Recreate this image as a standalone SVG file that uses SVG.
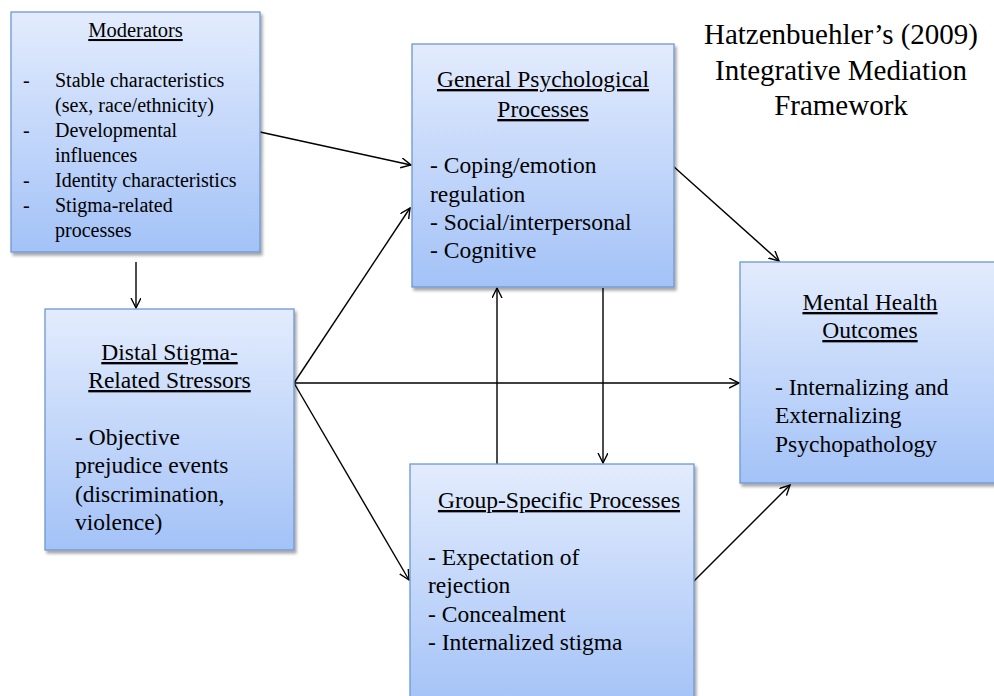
<svg xmlns="http://www.w3.org/2000/svg" width="994" height="696" viewBox="0 0 994 696">
  <defs>
    <linearGradient id="boxFill" x1="0" y1="0" x2="0" y2="1">
      <stop offset="0" stop-color="#e3ecfd"/>
      <stop offset="1" stop-color="#a3c2f7"/>
    </linearGradient>
    <filter id="shadow" x="-10%" y="-10%" width="125%" height="125%">
      <feDropShadow dx="2" dy="3" stdDeviation="1.5" flood-color="#000" flood-opacity="0.35"/>
    </filter>
    <marker id="open" markerUnits="userSpaceOnUse" markerWidth="12" markerHeight="12" refX="10" refY="5" orient="auto" viewBox="0 0 12 12">
      <path d="M0,0 L10,5 L0,10" fill="none" stroke="#000" stroke-width="1.4"/>
    </marker>
    <style>
      .box { fill: url(#boxFill); stroke: #6f97d3; stroke-width: 1.3; filter: url(#shadow); }
      text { font-family: "Liberation Serif", "Times New Roman", serif; fill: #000; }
      .head { font-size: 23.5px; text-anchor: middle; text-decoration: underline; }
      .body { font-size: 23.5px; }
      .small { font-size: 20px; }
      .smallhead { font-size: 20.5px; text-anchor: middle; text-decoration: underline; }
      .title { font-size: 29px; text-anchor: middle; }
      .conn { stroke: #000; stroke-width: 1.4; fill: none; marker-end: url(#open); }
    </style>
  </defs>

  <rect width="994" height="696" fill="#fff"/>

  <!-- Title -->
  <g id="title">
    <text class="title" x="841" y="44">Hatzenbuehler’s (2009)</text>
    <text class="title" x="841" y="80">Integrative Mediation</text>
    <text class="title" x="841" y="115">Framework</text>
  </g>

  <!-- Connectors -->
  <g id="connectors">
    <line class="conn" x1="260" y1="132" x2="411" y2="165"/>
    <line class="conn" x1="136" y1="262" x2="136" y2="308"/>
    <line class="conn" x1="294" y1="383" x2="410" y2="208"/>
    <line class="conn" x1="294" y1="383" x2="739" y2="383"/>
    <line class="conn" x1="294" y1="383" x2="409" y2="580"/>
    <line class="conn" x1="673" y1="166" x2="779" y2="261"/>
    <line class="conn" x1="497" y1="464" x2="497" y2="288"/>
    <line class="conn" x1="603" y1="288" x2="603" y2="463"/>
    <line class="conn" x1="693" y1="582" x2="790" y2="485"/>
  </g>

  <!-- Moderators -->
  <g id="moderators">
    <rect class="box" x="11" y="12" width="249" height="240"/>
    <text class="smallhead" x="135.5" y="37">Moderators</text>
    <text class="small" x="23" y="87">-</text>
    <text class="small" x="55" y="87">Stable characteristics</text>
    <text class="small" x="55" y="112">(sex, race/ethnicity)</text>
    <text class="small" x="23" y="137">-</text>
    <text class="small" x="55" y="137">Developmental</text>
    <text class="small" x="55" y="162">influences</text>
    <text class="small" x="23" y="187">-</text>
    <text class="small" x="55" y="187">Identity characteristics</text>
    <text class="small" x="23" y="212">-</text>
    <text class="small" x="55" y="212">Stigma-related</text>
    <text class="small" x="55" y="237">processes</text>
  </g>

  <!-- General Psychological Processes -->
  <g id="general">
    <rect class="box" x="412" y="44" width="262" height="243"/>
    <text class="head" x="543" y="87">General Psychological</text>
    <text class="head" x="543" y="117">Processes</text>
    <text class="body" x="430" y="173">- Coping/emotion</text>
    <text class="body" x="430" y="202">regulation</text>
    <text class="body" x="430" y="230">- Social/interpersonal</text>
    <text class="body" x="430" y="258">- Cognitive</text>
  </g>

  <!-- Distal Stigma-Related Stressors -->
  <g id="distal">
    <rect class="box" x="45" y="309" width="249" height="241"/>
    <text class="head" x="169.5" y="360">Distal Stigma-</text>
    <text class="head" x="169.5" y="388">Related Stressors</text>
    <text class="body" x="75" y="445">- Objective</text>
    <text class="body" x="75" y="473">prejudice events</text>
    <text class="body" x="75" y="502">(discrimination,</text>
    <text class="body" x="75" y="530">violence)</text>
  </g>

  <!-- Group-Specific Processes -->
  <g id="group">
    <rect class="box" x="410" y="464" width="284" height="245"/>
    <text class="head" x="559" y="508">Group-Specific Processes</text>
    <text class="body" x="428" y="565">- Expectation of</text>
    <text class="body" x="428" y="593">rejection</text>
    <text class="body" x="428" y="622">- Concealment</text>
    <text class="body" x="428" y="650">- Internalized stigma</text>
  </g>

  <!-- Mental Health Outcomes -->
  <g id="mental">
    <rect class="box" x="740" y="262" width="256" height="221"/>
    <text class="head" x="870" y="310">Mental Health</text>
    <text class="head" x="870" y="338">Outcomes</text>
    <text class="body" x="775" y="395">- Internalizing and</text>
    <text class="body" x="775" y="423">Externalizing</text>
    <text class="body" x="775" y="452">Psychopathology</text>
  </g>
</svg>
